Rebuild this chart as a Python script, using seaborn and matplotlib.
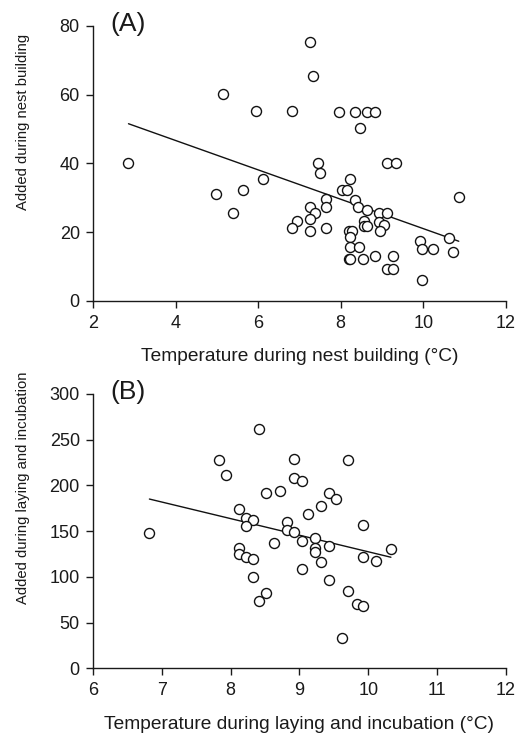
import matplotlib
matplotlib.use("Agg")
import matplotlib.pyplot as plt
import seaborn as sns
import numpy as np
import pandas as pd

# Panel A data: temperature during nest building vs material added
temp_a = [2.86, 7.25, 7.33, 5.16, 5.96, 6.83, 7.96, 8.35, 8.63, 8.83,
          8.47, 7.44, 7.49, 9.13, 9.34, 6.11, 4.97, 5.64, 5.40, 8.23,
          8.02, 8.16, 7.64, 7.64, 7.25, 7.38, 7.25, 6.94, 6.82, 7.25,
          7.64, 8.35, 8.42, 8.63, 8.92, 9.11, 8.56, 8.56, 8.63, 8.92,
          9.05, 8.95, 8.19, 8.27, 8.23, 8.23, 8.44, 8.19, 8.22, 8.55,
          8.83, 9.26, 9.13, 9.26, 9.92, 9.96, 10.24, 10.63, 10.72, 10.86,
          9.96]
added_a = [40.0, 75.3, 65.4, 60.2, 55.1, 55.1, 55.0, 55.0, 55.0, 55.0,
           50.4, 40.0, 37.1, 40.0, 40.0, 35.3, 31.1, 32.1, 25.5, 35.3,
           32.1, 32.1, 29.5, 27.2, 27.2, 25.5, 23.9, 23.1, 21.1, 20.2,
           21.1, 29.2, 27.2, 26.3, 25.5, 25.5, 23.1, 21.9, 21.9, 22.8,
           22.1, 20.2, 20.2, 20.2, 18.5, 15.8, 15.8, 12.2, 12.2, 12.2,
           13.2, 13.2, 9.4, 9.4, 17.5, 15.0, 15.0, 18.4, 14.1, 30.1,
           6.1]

# Panel B data: temperature during laying and incubation vs material added
temp_b = [6.82, 8.42, 7.83, 7.93, 8.92, 8.92, 9.04, 9.71, 8.52, 8.72,
          9.43, 9.53, 9.32, 9.13, 8.12, 8.23, 8.32, 8.23, 8.82, 8.82,
          8.92, 9.92, 8.63, 9.04, 9.22, 9.22, 9.22, 9.43, 8.12, 8.12,
          8.23, 8.32, 9.92, 10.12, 10.33, 9.32, 9.04, 8.32, 9.43, 8.52,
          8.42, 9.71, 9.83, 9.92, 9.62]
added_b = [147.8, 261.0, 227.5, 211.5, 229.0, 207.9, 204.6, 227.5, 191.8, 193.7,
           191.8, 184.9, 177.6, 168.9, 174.4, 163.8, 162.0, 155.1, 160.2, 151.1,
           149.3, 156.5, 137.2, 139.1, 142.7, 131.0, 127.4, 133.6, 131.8, 124.9,
           121.2, 119.4, 121.2, 117.6, 130.0, 115.8, 108.8, 100.1, 96.5, 82.3,
           73.5, 84.1, 69.9, 68.1, 32.8]

xticks_a = [2, 4, 6, 8, 10, 12]
yticks_a = [0, 20, 40, 60, 80]
xticks_b = [6, 7, 8, 9, 10, 11, 12]
yticks_b = [0, 50, 100, 150, 200, 250, 300]

df_a = pd.DataFrame({"temp": temp_a, "added": added_a})
df_b = pd.DataFrame({"temp": temp_b, "added": added_b})

sns.set_theme(style="ticks")
plt.rcParams["font.family"] = ["Liberation Sans", "DejaVu Sans"]
plt.rcParams["text.color"] = "#1a1a1a"
plt.rcParams["axes.labelcolor"] = "#1a1a1a"
plt.rcParams["xtick.color"] = "#1a1a1a"
plt.rcParams["ytick.color"] = "#1a1a1a"

fig = plt.figure(figsize=(5.18, 7.34), dpi=100)
ax_a = fig.add_axes([0.1795, 0.590, 0.797, 0.375])
ax_b = fig.add_axes([0.1795, 0.0895, 0.797, 0.374])

panels = [
    (ax_a, df_a, xticks_a, yticks_a, "Temperature during nest building (°C)",
     "Added during nest building", "(A)", 0.650),
    (ax_b, df_b, xticks_b, yticks_b, "Temperature during laying and incubation (°C)",
     "Added during laying and incubation", "(B)", 0.657),
]

for ax, df, xt, yt, xl, yl, tag, ylab_y in panels:
    sns.regplot(data=df, x="temp", y="added", ax=ax, ci=None, truncate=True,
                scatter_kws=dict(s=52, facecolors="white", edgecolors="#111111",
                                 linewidths=1.0, alpha=1, zorder=3),
                line_kws=dict(color="#111111", linewidth=1.0, zorder=2))
    ax.set_xlim(xt[0], xt[-1])
    ax.set_ylim(yt[0], yt[-1])
    ax.set_xticks(xt)
    ax.set_yticks(yt)
    ax.tick_params(axis="both", labelsize=13, length=5, width=1, direction="out")
    ax.tick_params(axis="x", pad=5)
    ax.tick_params(axis="y", pad=4.5)
    for s in ("left", "bottom"):
        ax.spines[s].set_linewidth(1.0)
        ax.spines[s].set_color("#1a1a1a")
    sns.despine(ax=ax)
    ax.set_xlabel(xl, fontsize=13.8, labelpad=12)
    ax.set_ylabel(yl, fontsize=10.7)
    ax.yaxis.set_label_coords(-0.153, ylab_y)
    ax.text(0.043, 1.05, tag, transform=ax.transAxes, fontsize=19, va="top", ha="left")

fig.savefig("out.png", dpi=100)
